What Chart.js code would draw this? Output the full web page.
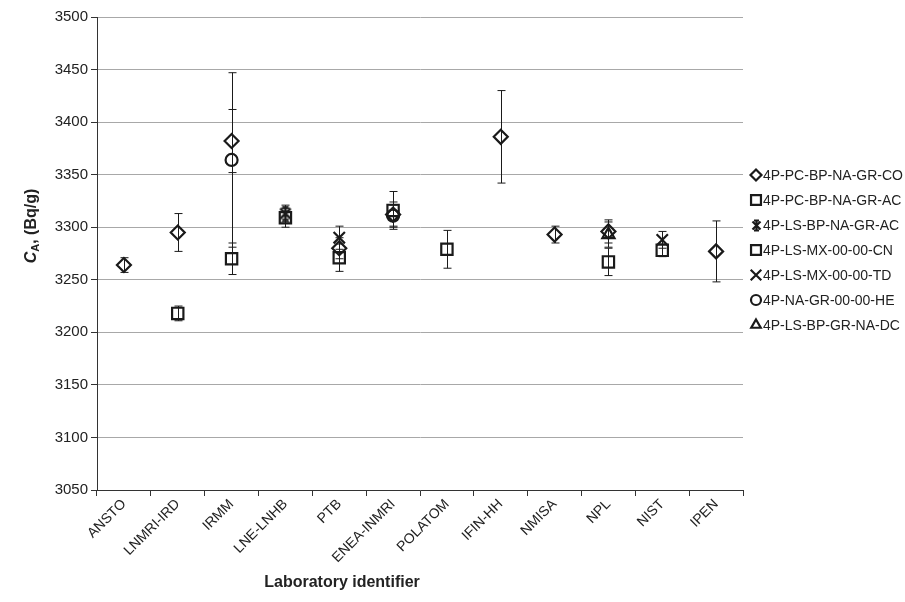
<!DOCTYPE html>
<html>
<head>
<meta charset="utf-8">
<script src="https://cdn.jsdelivr.net/npm/chart.js@4.4.0/dist/chart.umd.min.js"></script>
<style>
html, body { margin: 0; padding: 0; background: #fff; }
</style>
</head>
<body>
<canvas id="chart" width="905" height="602"></canvas>
<script>
// Laboratorios
const labs = ['ANSTO', 'LNMRI-IRD', 'IRMM', 'LNE-LNHB', 'PTB', 'ENEA-INMRI', 'POLATOM', 'IFIN-HH', 'NMISA', 'NPL', 'NIST', 'IPEN'];

// Nombres de las series (métodos)
const seriesNames = ['4P-PC-BP-NA-GR-CO', '4P-PC-BP-NA-GR-AC', '4P-LS-BP-NA-GR-AC', '4P-LS-MX-00-00-CN', '4P-LS-MX-00-00-TD', '4P-NA-GR-00-00-HE', '4P-LS-BP-GR-NA-DC'];

// Valores C_A (Bq/g) y sus incertidumbres
const coVals = [3264, 3295, 3382, null, 3280, 3312, null, 3386, 3293, 3296, null, 3277];
const coErr  = [7, 18, 30, null, 10, 12, null, 44, 8, 11, null, 29];
const pcAcVals = [null, 3218, 3270, 3309, 3271, 3316, null, null, null, null, null, null];
const pcAcErr  = [null, 7, 15, 9, 13, 18, null, null, null, null, null, null];
const lsBpVals = [null, null, null, 3313, null, null, null, null, null, null, null, null];
const lsBpErr  = [null, null, null, 8, null, null, null, null, null, null, null, null];
const cnVals = [null, null, null, null, null, null, 3279, null, null, 3267, 3278, null];
const cnErr  = [null, null, null, null, null, null, 18, null, null, 13, 6, null];
const tdVals = [null, null, null, null, 3290, null, null, null, null, null, 3288, null];
const tdErr  = [null, null, null, null, 11, null, null, null, null, null, 8, null];
const heVals = [null, null, 3364, null, null, 3311, null, null, null, null, null, null];
const heErr  = [null, null, 83, null, null, 10, null, null, null, null, null, null];
const dcVals = [null, null, null, null, null, null, null, null, null, 3293, null, null];
const dcErr  = [null, null, null, null, null, null, null, null, null, 12, null, null];

const yTicks = { min: 3050, max: 3500, step: 50 };

const INK = '#1a1a1a';
const FONT = 'Arial, "Liberation Sans", sans-serif';

// Marcador tipo asterisco (X con línea vertical)
function starMarker(size, lw) {
    const c = document.createElement('canvas');
    c.width = size; c.height = size;
    const g = c.getContext('2d');
    const m = size / 2, r = size / 2 - 1.5;
    g.strokeStyle = INK;
    g.lineWidth = lw;
    g.beginPath();
    g.moveTo(m - r * 0.8, m - r * 0.8); g.lineTo(m + r * 0.8, m + r * 0.8);
    g.moveTo(m + r * 0.8, m - r * 0.8); g.lineTo(m - r * 0.8, m + r * 0.8);
    g.moveTo(m, m - r); g.lineTo(m, m + r);
    g.moveTo(m - r * 0.5, m - r); g.lineTo(m + r * 0.5, m - r);
    g.moveTo(m - r * 0.5, m + r); g.lineTo(m + r * 0.5, m + r);
    g.stroke();
    return c;
}

const styles = [
    { pointStyle: 'rectRot', radius: 7, legendRadius: 5.5 },
    { pointStyle: 'rect', radius: 8, legendRadius: 7 },
    { pointStyle: starMarker(16, 2.5), radius: 8, legendIcon: starMarker(13, 2.2) },
    { pointStyle: 'rect', radius: 8, legendRadius: 7 },
    { pointStyle: 'crossRot', radius: 8, legendRadius: 7.5 },
    { pointStyle: 'circle', radius: 6, legendRadius: 5 },
    { pointStyle: 'triangle', radius: 7, legendRadius: 5.5 }
];

const allVals = [coVals, pcAcVals, lsBpVals, cnVals, tdVals, heVals, dcVals];
const allErr = [coErr, pcAcErr, lsBpErr, cnErr, tdErr, heErr, dcErr];

const datasets = seriesNames.map(function(name, i) {
    return {
        label: name,
        data: allVals[i],
        errors: allErr[i],
        showLine: false,
        pointStyle: styles[i].pointStyle,
        pointRadius: styles[i].radius,
        pointHoverRadius: styles[i].radius,
        pointBorderWidth: 2.2,
        pointBorderColor: INK,
        pointBackgroundColor: 'rgba(255,255,255,0)',
        borderColor: INK,
        backgroundColor: 'rgba(255,255,255,0)'
    };
});

// Barras de error dibujadas con las escalas del gráfico
const errorBars = {
    id: 'errorBars',
    beforeDatasetsDraw(chart) {
        const ctx = chart.ctx;
        const y = chart.scales.y;
        ctx.save();
        ctx.strokeStyle = INK;
        ctx.lineWidth = 1;
        chart.data.datasets.forEach(function(ds, i) {
            const meta = chart.getDatasetMeta(i);
            ds.data.forEach(function(v, j) {
                const e = ds.errors[j];
                if (v === null || e === null) return;
                const px = Math.round(meta.data[j].x) + 0.5;
                const top = y.getPixelForValue(v + e);
                const bot = y.getPixelForValue(v - e);
                ctx.beginPath();
                ctx.moveTo(px, top); ctx.lineTo(px, bot);
                ctx.moveTo(px - 4, top); ctx.lineTo(px + 4, top);
                ctx.moveTo(px - 4, bot); ctx.lineTo(px + 4, bot);
                ctx.stroke();
            });
        });
        ctx.restore();
    }
};

// Leyenda y títulos de ejes
const extras = {
    id: 'extras',
    afterDraw(chart) {
        const ctx = chart.ctx;
        ctx.save();
        // leyenda
        ctx.font = '14px ' + FONT;
        ctx.textBaseline = 'middle';
        seriesNames.forEach(function(name, i) {
            const ly = 175 + i * 25;
            const lx = 756;
            ctx.strokeStyle = INK;
            ctx.lineWidth = 2.2;
            ctx.fillStyle = 'rgba(255,255,255,0)';
            if (styles[i].legendIcon) {
                const ic = styles[i].legendIcon;
                ctx.drawImage(ic, Math.round(lx - ic.width / 2), Math.round(ly - ic.height / 2));
            } else {
                Chart.helpers.drawPoint(ctx, {
                    pointStyle: styles[i].pointStyle,
                    radius: styles[i].legendRadius,
                    rotation: 0,
                    borderWidth: 2.2
                }, lx, ly);
            }
            ctx.fillStyle = '#222';
            ctx.textAlign = 'left';
            ctx.fillText(name, 763, ly + 1);
        });

        // título eje X
        ctx.fillStyle = '#222';
        ctx.font = 'bold 16px ' + FONT;
        ctx.textAlign = 'center';
        ctx.fillText('Laboratory identifier', 342, 583);

        // título eje Y: C_A, (Bq/g)
        const big = 'bold 16px ' + FONT;
        const itBig = 'italic bold 16px ' + FONT;
        const small = 'bold 11px ' + FONT;
        ctx.translate(32, 226);
        ctx.rotate(-Math.PI / 2);
        ctx.font = itBig; const wC = ctx.measureText('C').width;
        ctx.font = small; const wA = ctx.measureText('A').width;
        ctx.font = big; const wR = ctx.measureText(', (Bq/g)').width;
        let x0 = -(wC + wA + wR) / 2;
        ctx.textAlign = 'left';
        ctx.font = itBig; ctx.fillText('C', x0, 0);
        x0 += wC;
        ctx.font = small; ctx.fillText('A', x0, 4);
        x0 += wA;
        ctx.font = big; ctx.fillText(', (Bq/g)', x0, 0);
        ctx.restore();
    }
};

const ctx = document.getElementById('chart').getContext('2d');
new Chart(ctx, {
    type: 'line',
    data: { labels: labs, datasets: datasets },
    options: {
        responsive: false,
        animation: false,
        layout: { padding: { top: 17, right: 162, bottom: 0, left: 0 } },
        plugins: {
            legend: { display: false },
            tooltip: { enabled: false }
        },
        scales: {
            x: {
                type: 'category',
                offset: true,
                afterFit: function(scale) { scale.height = 112; },
                grid: { display: true, drawOnChartArea: false, offset: true, tickLength: 6, color: '#333' },
                border: { color: '#333', width: 1 },
                ticks: {
                    autoSkip: false,
                    minRotation: 45,
                    maxRotation: 45,
                    padding: 0,
                    color: '#222',
                    font: { family: FONT, size: 14 }
                }
            },
            y: {
                min: yTicks.min,
                max: yTicks.max,
                afterFit: function(scale) { scale.width = 97; },
                grid: { color: '#a8a8a8', tickColor: '#333', tickLength: 6 },
                border: { color: '#333', width: 1 },
                ticks: {
                    stepSize: yTicks.step,
                    padding: 3,
                    color: '#222',
                    font: { family: FONT, size: 15 },
                    callback: function(v) { return String(v); }
                }
            }
        }
    },
    plugins: [errorBars, extras]
});
</script>
</body>
</html>
